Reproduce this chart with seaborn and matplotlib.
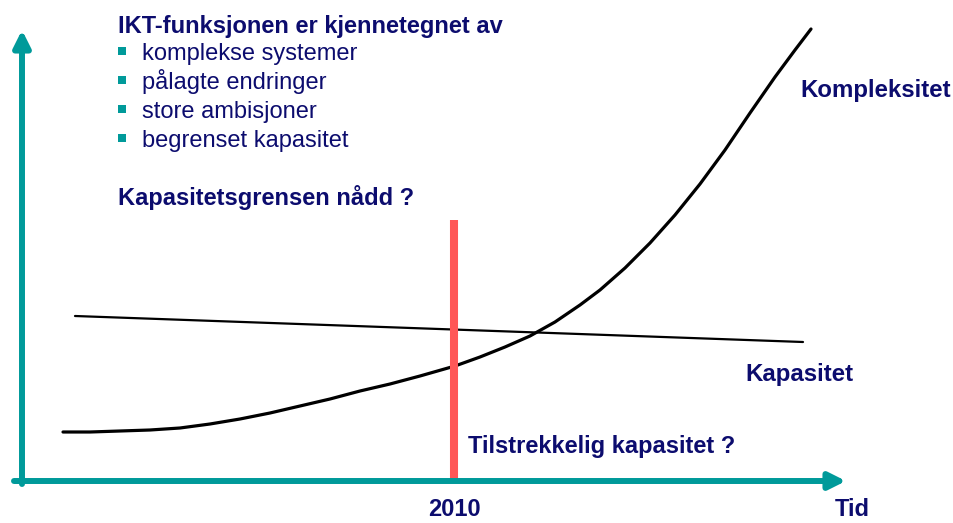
import matplotlib.pyplot as plt
import pandas as pd
import seaborn as sns

sns.set_style("white")
plt.rcParams["font.family"] = ["Liberation Sans", "DejaVu Sans"]

NAVY = "#0c0c6e"
TEAL = "#009a9a"
RED = "#ff5757"

# curves in drawing units (x to the right, y upwards)
kompleksitet_x = [63, 90, 120, 150, 180, 210, 240, 270, 300, 330, 360, 390, 420, 455, 480,
                  505, 530, 555, 580, 600, 625, 650, 675, 700, 725, 750, 775, 795, 811]
kompleksitet_y = [91, 91, 92, 93, 95, 99, 104, 110, 117, 124, 132, 139, 147, 157, 166,
                  176, 187, 201, 218, 233, 255, 280, 308, 339, 373, 410, 446, 473, 494]
kapasitet_x = [75, 803]
kapasitet_y = [207, 181]

year_x = 454
year_label = "2010"
bullets = ["komplekse systemer", "pålagte endringer", "store ambisjoner", "begrenset kapasitet"]

fig = plt.figure(figsize=(9.54, 5.23), dpi=100)
ax = fig.add_axes([0, 0, 1, 1])
ax.set_xlim(0, 954)
ax.set_ylim(0, 523)
ax.axis("off")

# axes with arrow heads
arrow = dict(arrowstyle="-|>,head_length=1.0,head_width=0.5", lw=4.3, color=TEAL,
             shrinkA=0, shrinkB=0)
ax.annotate("", xy=(846, 42), xytext=(14, 42), arrowprops=arrow)
ax.annotate("", xy=(22, 493), xytext=(22, 39), arrowprops=arrow)

# curves
komp = pd.DataFrame({"x": kompleksitet_x, "y": kompleksitet_y})
kap = pd.DataFrame({"x": kapasitet_x, "y": kapasitet_y})
sns.lineplot(data=komp, x="x", y="y", ax=ax, color="black", lw=2.3, sort=False)
sns.lineplot(data=kap, x="x", y="y", ax=ax, color="black", lw=1.6, sort=False)

# 2010 marker
ax.plot([year_x, year_x], [43, 303], color=RED, lw=5.8, solid_capstyle="butt")

# texts
ax.text(118, 490, "IKT-funksjonen er kjennetegnet av", color=NAVY, fontsize=17,
        fontweight="bold", va="baseline", ha="left")
for i, item in enumerate(bullets):
    ax.scatter([122], [472 - i * 29], marker="s", s=27, color=TEAL, linewidths=0)
    ax.text(142, 463 - i * 29, item, color=NAVY, fontsize=17, va="baseline", ha="left")
ax.text(118, 318, "Kapasitetsgrensen nådd ?", color=NAVY, fontsize=17,
        fontweight="bold", va="baseline", ha="left")

ax.text(468, 70, "Tilstrekkelig kapasitet ?", color=NAVY, fontsize=17,
        fontweight="bold", va="baseline", ha="left")
ax.text(year_x, 7, year_label, color=NAVY, fontsize=17, fontweight="bold",
        va="baseline", ha="center")
ax.text(852, 7, "Tid", color=NAVY, fontsize=17, fontweight="bold",
        va="baseline", ha="center")

ax.text(800, 426, "Kompleksitet", color=NAVY, fontsize=17.3, fontweight="bold",
        va="baseline", ha="left")
ax.text(745, 142, "Kapasitet", color=NAVY, fontsize=17.3, fontweight="bold",
        va="baseline", ha="left")

fig.savefig("out.png", dpi=100)
plt.close(fig)
